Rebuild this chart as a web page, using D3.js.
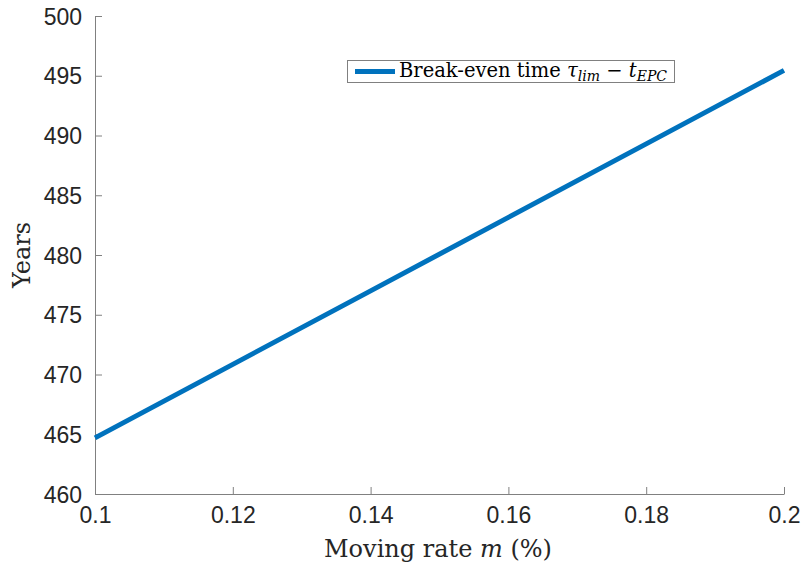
<!DOCTYPE html>
<html><head><meta charset="utf-8">
<script src="https://cdn.jsdelivr.net/npm/d3@7"></script>
<style>body{margin:0;background:#fff}svg{display:block}</style>
</head><body>
<script>
const xValues = [0.10, 0.12, 0.14, 0.16, 0.18, 0.20];
const yValues = [464.7, 470.85, 477.0, 483.15, 489.3, 495.45];
const xTicks = [0.1, 0.12, 0.14, 0.16, 0.18, 0.2];
const yTicks = [460, 465, 470, 475, 480, 485, 490, 495, 500];
const seriesName = "Break-even time";

const W = 803, H = 567;
const m = {left: 95, right: 19, top: 16, bottom: 73};
const svg = d3.select("body").append("svg").attr("width", W).attr("height", H);
const x = d3.scaleLinear().domain([0.1, 0.2]).range([m.left, W - m.right]);
const y = d3.scaleLinear().domain([460, 500]).range([H - m.bottom, m.top]);

const axisColor = "#808080", textColor = "#262626";
const fontSans = "'Liberation Sans', Arial, sans-serif";
const fontSerif = "'DejaVu Serif', 'Liberation Serif', serif";

const gx = svg.append("g").attr("transform", `translate(0,${H - m.bottom})`)
  .call(d3.axisBottom(x).tickValues(xTicks).tickSizeInner(-7).tickSizeOuter(0).tickPadding(12)
    .tickFormat(d => d3.format("")(+d.toFixed(2))));
const gy = svg.append("g").attr("transform", `translate(${m.left},0)`)
  .call(d3.axisLeft(y).tickValues(yTicks).tickSizeInner(-7).tickSizeOuter(0).tickPadding(12));
[gx, gy].forEach(g => {
  g.select(".domain").attr("stroke", axisColor).attr("stroke-width", 1);
  g.selectAll(".tick line").attr("stroke", axisColor);
  g.selectAll(".tick text").attr("fill", textColor).style("font-family", fontSans).style("font-size", "23px");
});
gx.selectAll(".tick text").attr("dy", "0.75em");
gy.selectAll(".tick text").attr("dx", "-1").attr("dy", "0.35em");

const pts = xValues.map((v, i) => [v, yValues[i]]);
svg.append("path").datum(pts)
  .attr("fill", "none").attr("stroke", "#0072BD").attr("stroke-width", 5)
  .attr("d", d3.line().x(d => x(d[0])).y(d => y(d[1])));

// axis labels
const xl = svg.append("text").attr("x", 438).attr("y", 557)
  .attr("text-anchor", "middle").attr("fill", textColor)
  .style("font-family", fontSerif).style("font-size", "24px");
xl.append("tspan").text("Moving rate ");
xl.append("tspan").style("font-style", "italic").text("m");
xl.append("tspan").text(" (%)");

svg.append("text").attr("transform", `translate(30,${255}) rotate(-90)`)
  .attr("text-anchor", "middle").attr("fill", textColor)
  .style("font-family", fontSerif).style("font-size", "24px").text("Years");

// legend
const lg = svg.append("g");
lg.append("rect").attr("x", 347.5).attr("y", 60.5).attr("width", 327).attr("height", 22)
  .attr("fill", "#fff").attr("stroke", "#808080").attr("stroke-width", 1);
lg.append("line").attr("x1", 355).attr("x2", 395).attr("y1", 71.5).attr("y2", 71.5)
  .attr("stroke", "#0072BD").attr("stroke-width", 5);
const lt = lg.append("text").attr("x", 399).attr("y", 77).attr("fill", "#000")
  .style("font-family", fontSerif).style("font-size", "19.5px");
lt.append("tspan").text(seriesName + " ");
lt.append("tspan").style("font-style", "italic").text("τ");
lt.append("tspan").style("font-style", "italic").style("font-size", "14px").attr("dy", 4).text("lim");
lt.append("tspan").attr("dy", -4).text(" − ");
lt.append("tspan").style("font-style", "italic").text("t");
lt.append("tspan").style("font-style", "italic").style("font-size", "14px").attr("dy", 4).text("EPC");
</script>
</body></html>
